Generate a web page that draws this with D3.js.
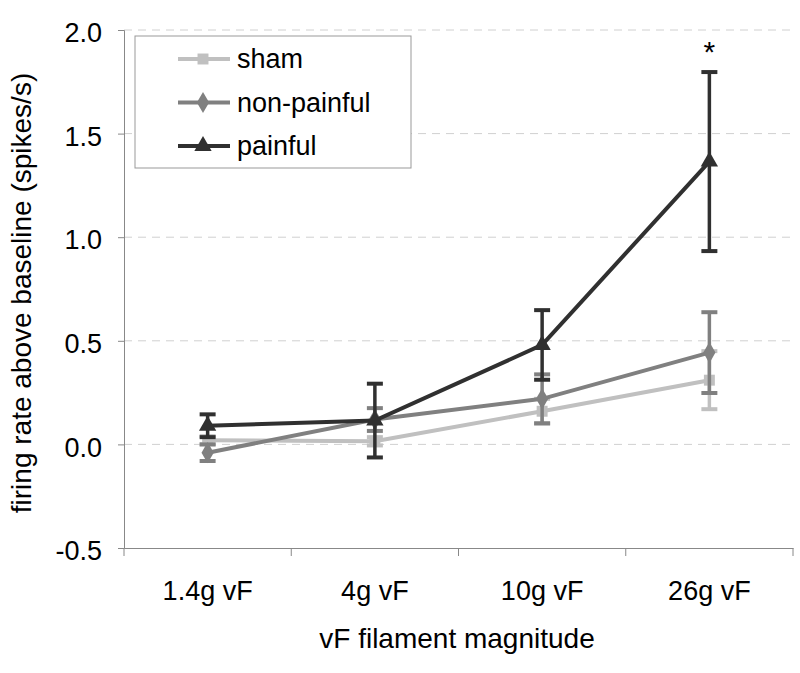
<!DOCTYPE html>
<html><head><meta charset="utf-8">
<script src="https://cdn.jsdelivr.net/npm/d3@7"></script>
<style>body{margin:0;background:#fff}svg{display:block;font-family:"Liberation Sans",Arial,sans-serif}</style>
</head><body><svg id="c" width="800" height="673"></svg>
<script>
const categories = ["1.4g vF","4g vF","10g vF","26g vF"];
const yTicks = [-0.5,0.0,0.5,1.0,1.5,2.0];
const seriesNames = ["sham","non-painful","painful"];
const shamVals = [0.02,0.015,0.16,0.31];
const shamErr = [0.02,0.02,0.06,0.14];
const nonPainfulVals = [-0.04,0.12,0.22,0.443];
const nonPainfulErr = [0.04,0.055,0.118,0.195];
const painfulVals = [0.09,0.115,0.48,1.365];
const painfulErr = [0.055,0.178,0.168,0.432];
const sigMarks = ["","","","*"];

const colors = {"sham":"#c0c0c0","non-painful":"#808080","painful":"#303030"};
const symbols = {"sham":d3.symbolSquare,"non-painful":d3.symbolDiamond,"painful":d3.symbolTriangle};
const symSize = {"sham":120,"non-painful":130,"painful":130};
const series = [
  {name:"sham",vals:shamVals,err:shamErr},
  {name:"non-painful",vals:nonPainfulVals,err:nonPainfulErr},
  {name:"painful",vals:painfulVals,err:painfulErr}
];

const svg = d3.select("#c");
const L=124,R=793,T=30,B=548;
const x = d3.scaleBand().domain(categories).range([L,R]);
const y = d3.scaleLinear().domain([-0.5,2.0]).range([B,T]);
const cx = c => x(c)+x.bandwidth()/2;
const FONT = "Liberation Sans, Arial, sans-serif";

// gridlines
svg.append("g").selectAll("line").data(yTicks.filter(v=>v>-0.5)).join("line")
  .attr("x1",L).attr("x2",R).attr("y1",d=>y(d)).attr("y2",d=>y(d))
  .attr("stroke","#d0d0d0").attr("stroke-width",1).attr("stroke-dasharray","8,6");

// y axis
const ya = svg.append("g").attr("transform",`translate(${L},0)`)
  .call(d3.axisLeft(y).tickValues(yTicks).tickSize(6).tickPadding(16));
ya.select(".domain").attr("stroke","#888");
ya.selectAll(".tick line").attr("stroke","#888");
ya.selectAll("text").attr("font-size",27).attr("fill","#000").attr("font-family",FONT).attr("dy","0.43em")
  .text(d=>d<0?"-"+Math.abs(d).toFixed(1):d.toFixed(1));

// x axis
const xa = svg.append("g").attr("transform",`translate(0,${B})`)
  .call(d3.axisBottom(x).tickSize(0).tickPadding(33));
xa.select(".domain").attr("stroke","#888");
xa.selectAll("text").attr("font-size",27).attr("fill","#000").attr("font-family",FONT);
svg.append("g").selectAll("line").data(d3.range(categories.length+1)).join("line")
  .attr("x1",i=>L+i*x.step()).attr("x2",i=>L+i*x.step()).attr("y1",B).attr("y2",B+8).attr("stroke","#888");

// axis titles
svg.append("text").attr("x",457).attr("y",648).attr("text-anchor","middle").attr("font-size",28).text("vF filament magnitude");
svg.append("text").attr("transform","translate(31,293) rotate(-90)").attr("text-anchor","middle").attr("font-size",28).text("firing rate above baseline (spikes/s)");

// series
const line = d3.line().x((d,i)=>cx(categories[i])).y(d=>y(d));
series.forEach(s=>{
  const g = svg.append("g");
  const col = colors[s.name];
  s.vals.forEach((v,i)=>{
    const px = cx(categories[i]);
    g.append("line").attr("x1",px).attr("x2",px).attr("y1",y(v-s.err[i])).attr("y2",y(v+s.err[i])).attr("stroke",col).attr("stroke-width",3.5);
    [v-s.err[i],v+s.err[i]].forEach(e=>{
      g.append("line").attr("x1",px-8).attr("x2",px+8).attr("y1",y(e)).attr("y2",y(e)).attr("stroke",col).attr("stroke-width",4);
    });
  });
  g.append("path").datum(s.vals).attr("d",line).attr("fill","none").attr("stroke",col).attr("stroke-width",4);
  g.selectAll("path.m").data(s.vals).join("path").attr("class","m")
    .attr("transform",(d,i)=>`translate(${cx(categories[i])},${y(d)})`)
    .attr("d",d3.symbol(symbols[s.name],symSize[s.name])).attr("fill",col);
});

// significance marks
svg.append("g").selectAll("text").data(categories).join("text")
  .attr("x",c=>cx(c)).attr("y",62).attr("text-anchor","middle").attr("font-size",30)
  .text((c,i)=>sigMarks[i]);

// legend
const lg = svg.append("g");
lg.append("rect").attr("x",135).attr("y",36).attr("width",276).attr("height",132).attr("fill","#fff").attr("stroke","#999").attr("stroke-width",1);
seriesNames.forEach((n,i)=>{
  const yy = 59 + i*43.5;
  lg.append("line").attr("x1",178).attr("x2",230).attr("y1",yy).attr("y2",yy).attr("stroke",colors[n]).attr("stroke-width",4);
  lg.append("path").attr("transform",`translate(203,${yy})`).attr("d",d3.symbol(symbols[n],symSize[n])).attr("fill",colors[n]);
  lg.append("text").attr("x",237).attr("y",yy+9).attr("font-size",27).text(n);
});
</script></body></html>
